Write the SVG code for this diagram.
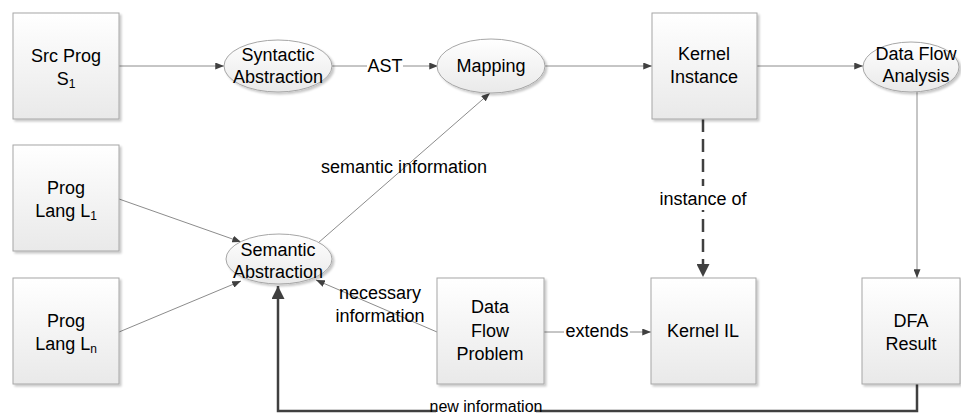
<svg xmlns="http://www.w3.org/2000/svg" width="961" height="416" viewBox="0 0 961 416">
<defs>
<linearGradient id="g" x1="0" y1="0" x2="0" y2="1">
<stop offset="0" stop-color="#ffffff"/>
<stop offset="1" stop-color="#e9e9e9"/>
</linearGradient>
<filter id="sh" x="-10%" y="-10%" width="130%" height="130%">
<feDropShadow dx="2" dy="2" stdDeviation="1.2" flood-color="#000" flood-opacity="0.22"/>
</filter>
<marker id="a" viewBox="0 0 10 8" refX="10" refY="4" markerWidth="9" markerHeight="7" markerUnits="userSpaceOnUse" orient="auto">
<path d="M0,0 L10,4 L0,8 z" fill="#404040"/>
</marker>
<marker id="A" viewBox="0 0 10 10" refX="10" refY="5" markerWidth="13" markerHeight="13" markerUnits="userSpaceOnUse" orient="auto">
<path d="M0,0 L10,5 L0,10 z" fill="#404040"/>
</marker>
</defs>
<style>
.box{fill:url(#g);stroke:#a6a6a6;stroke-width:1;filter:url(#sh)}
.t{font-family:"Liberation Sans",Arial,sans-serif;font-size:18px;fill:#000;text-anchor:middle}
.sub{font-size:12px}
.c{fill:none;stroke:#8c8c8c;stroke-width:1;marker-end:url(#a)}
.k{fill:none;stroke:#404040;stroke-width:2.5;marker-end:url(#A)}
.bg{fill:#fff}
</style>
<rect width="961" height="416" fill="#fff"/>

<g id="connectors">
<line class="c" x1="119" y1="66" x2="224" y2="66"/>
<line class="c" x1="332" y1="66" x2="438" y2="66"/>
<rect class="bg" x="367" y="55" width="36" height="22"/>
<text class="t" x="385" y="72">AST</text>
<line class="c" x1="545" y1="66" x2="652" y2="66"/>
<line class="c" x1="757" y1="66" x2="863" y2="66"/>
<line class="c" x1="917" y1="92" x2="917" y2="278"/>
<line class="k" x1="703" y1="119" x2="703" y2="277" stroke-dasharray="13 7"/>
<rect class="bg" x="658" y="186" width="90" height="24"/>
<text class="t" x="703" y="205">instance of</text>
<line class="c" x1="119" y1="199" x2="241" y2="242"/>
<line class="c" x1="119" y1="332" x2="241" y2="281"/>
<line class="c" x1="318" y1="243" x2="490" y2="93"/>
<text class="t" x="404" y="173">semantic information</text>
<line class="c" x1="437" y1="332" x2="316" y2="280"/>
<text class="t" x="380" y="299">necessary</text>
<text class="t" x="380" y="322">information</text>
<line class="c" x1="544" y1="332" x2="651" y2="332"/>
<rect class="bg" x="564" y="320" width="66" height="22"/>
<text class="t" x="597" y="337">extends</text>
<polyline class="k" points="917,384 917,411 278,411 278,286"/>
<rect class="bg" x="436" y="400" width="100" height="16"/>
<text class="t" x="486" y="412" style="font-size:16px">new information</text>
</g>

<g id="src-prog">
<rect class="box" x="13" y="13" width="106" height="106"/>
<text class="t" x="66" y="62">Src Prog</text>
<text class="t" x="66" y="85">S<tspan class="sub" dy="3">1</tspan></text>
</g>
<g id="syntactic-abstraction">
<ellipse class="box" cx="278" cy="66" rx="54" ry="26"/>
<text class="t" x="278" y="61">Syntactic</text>
<text class="t" x="278" y="83">Abstraction</text>
</g>
<g id="mapping">
<ellipse class="box" cx="491" cy="66" rx="54" ry="27"/>
<text class="t" x="491" y="72">Mapping</text>
</g>
<g id="kernel-instance">
<rect class="box" x="652" y="13" width="105" height="106"/>
<text class="t" x="704" y="60">Kernel</text>
<text class="t" x="704" y="83">Instance</text>
</g>
<g id="data-flow-analysis">
<ellipse class="box" cx="911" cy="67" rx="48" ry="25"/>
<text class="t" x="916" y="60">Data Flow</text>
<text class="t" x="916" y="82">Analysis</text>
</g>
<g id="prog-lang-1">
<rect class="box" x="13" y="145" width="106" height="106"/>
<text class="t" x="66" y="194">Prog</text>
<text class="t" x="66" y="217">Lang L<tspan class="sub" dy="3">1</tspan></text>
</g>
<g id="prog-lang-n">
<rect class="box" x="13" y="278" width="106" height="106"/>
<text class="t" x="66" y="327">Prog</text>
<text class="t" x="66" y="350">Lang L<tspan class="sub" dy="3">n</tspan></text>
</g>
<g id="semantic-abstraction">
<ellipse class="box" cx="279" cy="259" rx="53" ry="25"/>
<text class="t" x="278" y="256">Semantic</text>
<text class="t" x="278" y="278">Abstraction</text>
</g>
<g id="data-flow-problem">
<rect class="box" x="437" y="278" width="107" height="106"/>
<text class="t" x="490" y="313">Data</text>
<text class="t" x="490" y="337">Flow</text>
<text class="t" x="490" y="360">Problem</text>
</g>
<g id="kernel-il">
<rect class="box" x="651" y="278" width="105" height="106"/>
<text class="t" x="703" y="337">Kernel IL</text>
</g>
<g id="dfa-result">
<rect class="box" x="862" y="278" width="98" height="106"/>
<text class="t" x="911" y="327">DFA</text>
<text class="t" x="911" y="350">Result</text>
</g>
</svg>
